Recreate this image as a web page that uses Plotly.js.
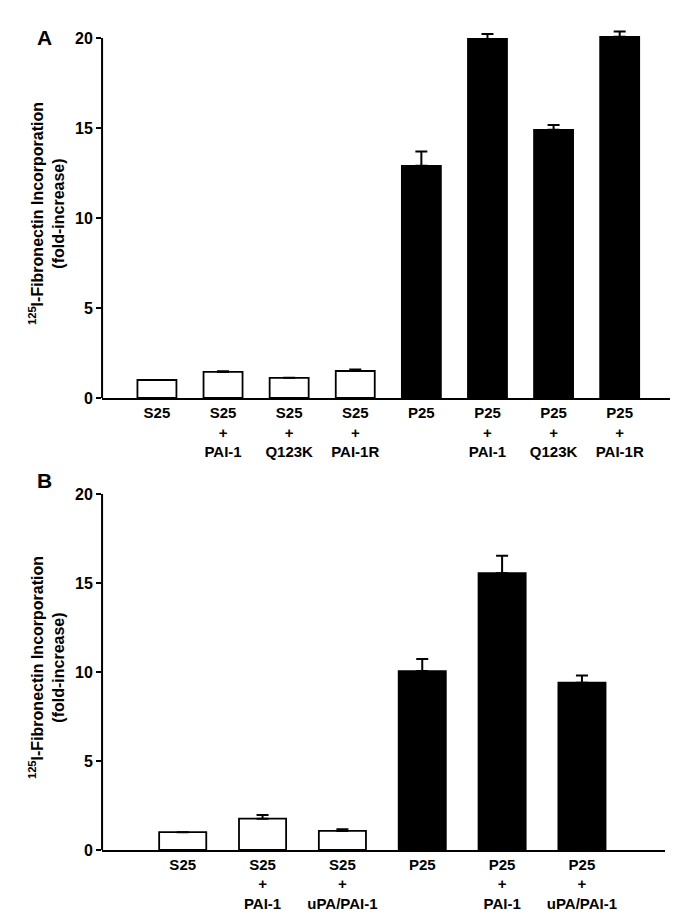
<!DOCTYPE html>
<html><head><meta charset="utf-8">
<script src="https://cdn.plot.ly/plotly-3.0.1.min.js"></script>
<style>html,body{margin:0;padding:0;background:#fff}#chart{width:685px;height:916px}</style>
</head><body><div id="chart"></div>
<script>
// Panel A
const catsA = ["S25", "S25<br>+<br>PAI-1", "S25<br>+<br>Q123K", "S25<br>+<br>PAI-1R", "P25", "P25<br>+<br>PAI-1", "P25<br>+<br>Q123K", "P25<br>+<br>PAI-1R"];
const valsA = [1.0, 1.45, 1.12, 1.5, 12.9, 19.95, 14.9, 20.07];
const errA  = [0.0, 0.04, 0.0, 0.08, 0.8, 0.28, 0.27, 0.3];
const fillA = ["white","white","white","white","black","black","black","black"];
// Panel B
const catsB = ["S25", "S25<br>+<br>PAI-1", "S25<br>+<br>uPA/PAI-1", "P25", "P25<br>+<br>PAI-1", "P25<br>+<br>uPA/PAI-1"];
const valsB = [1.0, 1.76, 1.07, 10.05, 15.55, 9.4];
const errB  = [0.0, 0.2, 0.09, 0.68, 0.98, 0.4];
const fillB = ["white","white","white","black","black","black"];
const yTicks = [0, 5, 10, 15, 20];

const FONT = "Arial, 'Liberation Sans', sans-serif";
function barTrace(cats, vals, err, fill, xa, ya) {
  return {
    type: "bar", x: cats, y: vals, xaxis: xa, yaxis: ya,
    marker: {color: fill, line: {color: "black", width: 1.8}},
    error_y: {type: "data", symmetric: false, array: err, arrayminus: err.map(() => 0),
              color: "black", thickness: 2, width: 6, visible: true},
    cliponaxis: false, showlegend: false, hoverinfo: "skip"
  };
}
const yTitle = {text: "<sup>125</sup>I-Fibronectin Incorporation<br>(fold-increase)",
                font: {family: FONT, size: 16, color: "black", weight: "bold"}, standoff: 6};
function yAxis(dom) {
  return {domain: dom, range: [0, 20.5], tickvals: yTicks, ticks: "outside", ticklen: 5, tickwidth: 2,
          showline: false, showgrid: false, zeroline: false, tickcolor: "black",
          tickfont: {family: FONT, size: 16, color: "black", weight: "bold"}, title: yTitle, fixedrange: true};
}
function xAxis(dom, range, anchor) {
  return {domain: dom, range: range, anchor: anchor, type: "category", showline: true, linewidth: 2,
          linecolor: "black", ticks: "", showgrid: false, zeroline: false, tickangle: 0,
          tickfont: {family: FONT, size: 15, color: "black", weight: "bold"}, fixedrange: true};
}
function axisLine(xa, ya) {
  return {type: "line", xref: xa + " domain", yref: ya, x0: 0, x1: 0, y0: 0, y1: 20,
          line: {color: "black", width: 2}, layer: "above"};
}
const data = [barTrace(catsA, valsA, errA, fillA, "x", "y"), barTrace(catsB, valsB, errB, fillB, "x2", "y2")];
const layout = {
  width: 685, height: 916, margin: {l: 0, r: 0, t: 0, b: 0},
  paper_bgcolor: "white", plot_bgcolor: "white", bargap: 0.41,
  xaxis: xAxis([0.149, 0.978], [-0.83, 7.76], "y"),
  yaxis: yAxis([0.5655, 0.9683]),
  xaxis2: xAxis([0.149, 0.9708], [-1.01, 6.04], "y2"),
  yaxis2: yAxis([0.0721, 0.4704]),
  shapes: [axisLine("x", "y"), axisLine("x2", "y2")],
  annotations: [
    {text: "<b>A</b>", xref: "paper", yref: "paper", x: 35/685, y: 1 - 24/916, showarrow: false,
     font: {family: FONT, size: 21, color: "black"}},
    {text: "<b>B</b>", xref: "paper", yref: "paper", x: 35/685, y: 1 - 480/916, showarrow: false,
     font: {family: FONT, size: 21, color: "black"}}
  ]
};
Plotly.newPlot("chart", data, layout, {displayModeBar: false, staticPlot: true});
</script></body></html>
